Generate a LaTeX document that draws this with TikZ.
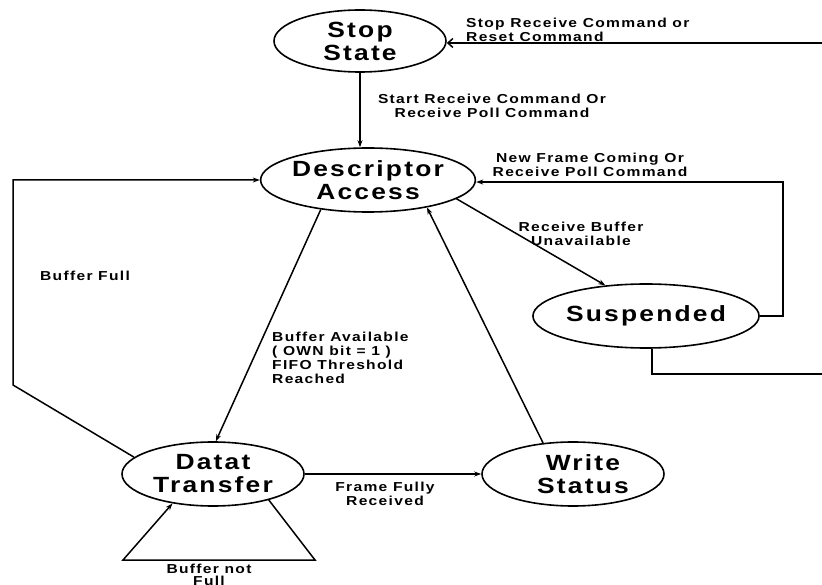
\documentclass[tikz,border=0pt]{standalone}
\usepackage{fontspec}
\usetikzlibrary{arrows.meta,shapes.geometric}
\newfontfamily\labfont{Liberation Sans}[FakeStretch=1.2,LetterSpace=10]
\begin{document}
\begin{tikzpicture}[x=1pt,y=1pt,
  state/.style={draw,line width=1.6pt,ellipse,minimum width=182pt,minimum height=64pt,inner sep=0pt,
    align=center,font=\labfont\bfseries\fontsize{22}{23}\selectfont},
  lab/.style={font=\labfont\bfseries\fontsize{13}{14}\selectfont,inner sep=0pt},
  conn/.style={line width=1.5pt},
  arr/.style={conn,-{Stealth[length=7pt,width=5pt]}}]
\useasboundingbox (0,0) rectangle (822,584);
% states
\node[state,minimum width=172pt,minimum height=62pt] (stop) at (360,543) {Stop\\State};
\node[state] (desc) at (368,404) {Descriptor\\Access};
\node[state] (susp) at (646,268) {Suspended};
\node[state] (datat) at (213,110) {Datat\\Transfer};
\node[state] (write) at (573,110) {\hspace*{20pt}Write\\\hspace*{20pt}Status};
% coordinates
\coordinate (e1) at (822,541);
\coordinate (c1) at (13,199);
\coordinate (r1) at (783,402);
\coordinate (s2) at (822,210);
\coordinate (l1) at (315,24);
\coordinate (l2) at (123,24);
% connectors
\draw[conn,-{Straight Barb[length=5pt,width=9pt]}] (e1) -- (e1 -| stop.east);
\draw[arr] (stop.south) -- (stop.south |- desc.north);
\draw[arr] (datat.168) -- (c1) |- (desc.west);
\draw[arr] (desc.212) -- (datat.85);
\draw[arr] (datat.east) -- (write.west);
\draw[arr] (datat.335) -- (l1) -- (l2) -- (datat.216);
\draw[arr] (write.134) -- (desc.335);
\draw[arr] (desc.348) -- (susp.143);
\draw[arr] (susp.east) -| (r1) -- (desc.east |- r1);
\draw[conn] ([xshift=6pt]susp.south) |- (s2);
% labels
\node[lab,anchor=west,align=left] (t1) at (466,554) {Stop Receive Command or\\Reset Command};
\node[lab,align=center] (t2) at (492,478) {Start Receive Command Or\\Receive Poll Command};
\node[lab,align=center] (t3) at (590,419) {New Frame Coming Or\\Receive Poll Command};
\node[lab,align=center] (t4) at (581,350) {Receive Buffer\\Unavailable};
\node[lab] (t5) at (85,308) {Buffer Full};
\node[lab,anchor=west,align=left] (t6) at (272,226) {Buffer Available\\( OWN bit = 1 )\\FIFO Threshold\\Reached};
\node[lab,align=center] (t7) at (385,90) {Frame Fully\\Received};
\node[lab,align=center,font=\labfont\bfseries\fontsize{13}{12}\selectfont] (t8) at (209,9.5) {Buffer not\\Full};
\end{tikzpicture}
\end{document}
